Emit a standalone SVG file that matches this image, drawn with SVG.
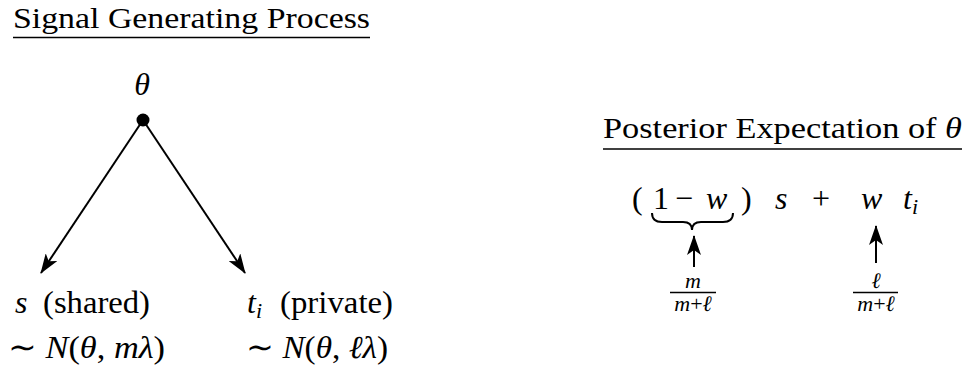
<svg xmlns="http://www.w3.org/2000/svg" width="971" height="370" viewBox="0 0 971 370">
<defs>
<style>
text{font-family:"Liberation Serif","Times New Roman",serif;fill:#000}
.t{font-size:32px}
.h{font-size:30px}
.i{font-style:italic}
.f{font-size:22px}
.sub{font-size:22px;font-style:italic}
.ul{stroke:#000;stroke-width:1.5}
.c{stroke:#000;stroke-width:2;fill:none}
</style>
<marker id="ah" viewBox="0 0 20 14" refX="19" refY="7" markerWidth="20" markerHeight="14" markerUnits="userSpaceOnUse" orient="auto">
<path d="M0,0 L20,7 L0,14 L5,7 Z" fill="#000"/>
</marker>
</defs>
<rect width="971" height="370" fill="#fff"/>

<g id="title-signal">
<text class="h" x="13" y="28" textLength="357" lengthAdjust="spacingAndGlyphs">Signal Generating Process</text>
<line class="ul" x1="13" y1="37.5" x2="370" y2="37.5"/>
</g>

<g id="theta-node">
<text class="t i" x="142" y="95" text-anchor="middle">θ</text>
<circle cx="143" cy="120" r="6.5" fill="#000"/>
</g>

<g id="connectors">
<line class="c" x1="143" y1="120" x2="41" y2="273" marker-end="url(#ah)"/>
<line class="c" x1="143" y1="120" x2="245" y2="273" marker-end="url(#ah)"/>
<line class="c" x1="694" y1="267" x2="694" y2="236" marker-end="url(#ah)"/>
<line class="c" x1="876" y1="263" x2="876" y2="226" marker-end="url(#ah)"/>
</g>

<g id="shared-node">
<text class="t i" x="15" y="313">s</text>
<text class="t" x="43" y="313" textLength="107" lengthAdjust="spacingAndGlyphs">(shared)</text>
<text class="t" x="8" y="358" textLength="157" lengthAdjust="spacingAndGlyphs">∼ <tspan class="i">N</tspan>(<tspan class="i">θ</tspan>, <tspan class="i">mλ</tspan>)</text>
</g>

<g id="private-node">
<text class="t i" x="247" y="313">t<tspan class="sub" dy="5">i</tspan></text>
<text class="t" x="280" y="313" textLength="113" lengthAdjust="spacingAndGlyphs">(private)</text>
<text class="t" x="246" y="358" textLength="142" lengthAdjust="spacingAndGlyphs">∼ <tspan class="i">N</tspan>(<tspan class="i">θ</tspan>, <tspan class="i">ℓλ</tspan>)</text>
</g>

<g id="title-posterior">
<text class="h" x="603" y="138" textLength="359" lengthAdjust="spacingAndGlyphs">Posterior Expectation of <tspan class="i">θ</tspan></text>
<line class="ul" x1="603" y1="149" x2="962" y2="149"/>
</g>

<g id="equation">
<text class="t" x="632" y="209">(</text>
<text class="t" x="653" y="209">1</text>
<text class="t" x="675" y="209">−</text>
<text class="t i" x="706" y="209">w</text>
<text class="t" x="741" y="209">)</text>
<text class="t i" x="775" y="209">s</text>
<text class="t" x="812" y="209">+</text>
<text class="t i" x="861" y="209">w</text>
<text class="t i" x="903" y="209">t<tspan class="sub" dy="5">i</tspan></text>
<path class="c" d="M652,213 Q652,222 662,222 L683,222 Q692,222 692,230 Q692,222 701,222 L723,222 Q733,222 733,213"/>
</g>

<g id="weight-left">
<text class="f i" x="693" y="288" text-anchor="middle">m</text>
<line class="ul" x1="670" y1="292.5" x2="716" y2="292.5" stroke-width="1"/>
<text class="f" x="693" y="311" text-anchor="middle"><tspan class="i">m</tspan>+<tspan class="i">ℓ</tspan></text>
</g>

<g id="weight-right">
<text class="f i" x="876" y="288" text-anchor="middle">ℓ</text>
<line class="ul" x1="853" y1="292.5" x2="898" y2="292.5" stroke-width="1"/>
<text class="f" x="876" y="311" text-anchor="middle"><tspan class="i">m</tspan>+<tspan class="i">ℓ</tspan></text>
</g>
</svg>
